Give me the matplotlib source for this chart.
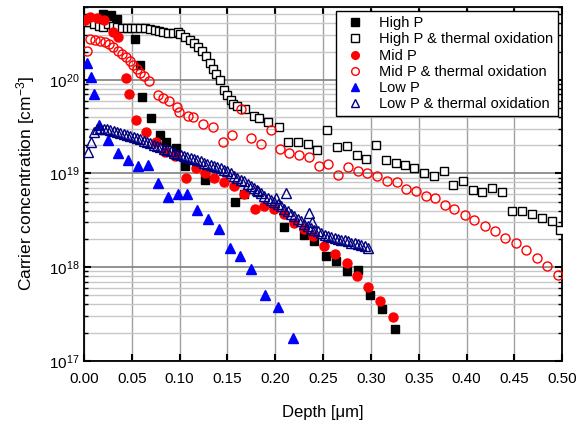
import matplotlib
matplotlib.use("Agg")
import matplotlib.pyplot as plt
from matplotlib.ticker import LogLocator, MultipleLocator, NullFormatter

plt.rcParams['font.family'] = ['Liberation Sans', 'DejaVu Sans']
plt.rcParams['mathtext.fontset'] = 'custom'
plt.rcParams['mathtext.rm'] = 'Liberation Sans'
plt.rcParams['mathtext.it'] = 'Liberation Sans:italic'

# ---- data (depth in um, concentration in cm^-3) ----
high_p_x = [0.020, 0.028, 0.035, 0.053, 0.059, 0.061, 0.070, 0.080, 0.086, 0.096,
            0.106, 0.127, 0.158, 0.167, 0.209, 0.230, 0.241, 0.253, 0.264, 0.275,
            0.287, 0.299, 0.312, 0.325]
high_p_y = [5.0e20, 4.9e20, 4.5e20, 2.7e20, 1.45e20, 6.5e19, 3.9e19, 2.55e19, 2.15e19, 1.85e19,
            1.2e19, 8.6e18, 4.9e18, 6.1e18, 2.7e18, 2.2e18, 1.9e18, 1.3e18, 1.17e18, 9.1e17,
            9.3e17, 5.0e17, 3.6e17, 2.2e17]

high_ox_x = [0.001, 0.0055, 0.0105, 0.0157, 0.0202, 0.0254, 0.030, 0.0348, 0.0394, 0.0447,
             0.0488, 0.0533, 0.0586, 0.0638, 0.069, 0.0743, 0.0788, 0.083, 0.0882, 0.0928,
             0.0986, 0.1004, 0.1056, 0.1109, 0.1154, 0.1196, 0.1234, 0.1276, 0.1318, 0.1353,
             0.1381, 0.1423, 0.1464, 0.1493, 0.1535, 0.1562, 0.1597, 0.1684, 0.1778, 0.1834,
             0.1928, 0.204, 0.2137, 0.2242, 0.2346, 0.244, 0.2539, 0.2643, 0.2748, 0.2853,
             0.295, 0.3054, 0.3159, 0.326, 0.3358, 0.3455, 0.3556, 0.3661, 0.3766, 0.3863,
             0.3961, 0.4066, 0.4163, 0.4268, 0.4369, 0.4477, 0.4578, 0.4683, 0.4788, 0.4892,
             0.4979]
high_ox_y = [4.17e20, 4.10e20, 3.90e20, 3.78e20, 3.62e20, 3.90e20, 3.78e20, 3.69e20, 3.60e20, 3.60e20,
             3.60e20, 3.53e20, 3.60e20, 3.53e20, 3.47e20, 3.39e20, 3.34e20, 3.26e20, 3.18e20, 3.18e20,
             3.26e20, 3.05e20, 2.83e20, 2.65e20, 2.44e20, 2.25e20, 2.05e20, 1.81e20, 1.52e20, 1.31e20,
             1.16e20, 1.00e20, 7.7e19, 6.8e19, 6.1e19, 5.5e19, 5.2e19, 4.9e19, 4.13e19, 3.87e19,
             3.51e19, 3.16e19, 2.19e19, 2.19e19, 2.08e19, 1.77e19, 2.90e19, 1.92e19, 1.94e19, 1.57e19,
             1.42e19, 2.01e19, 1.38e19, 1.28e19, 1.22e19, 1.13e19, 1.02e19, 9.5e18, 1.06e19, 7.5e18,
             8.4e18, 6.7e18, 6.3e18, 6.95e18, 6.3e18, 4.0e18, 3.94e18, 3.69e18, 3.34e18, 3.07e18,
             2.5e18]

mid_p_x = [0.001, 0.0063, 0.0136, 0.0209, 0.0306, 0.0353, 0.0439, 0.0474, 0.0544, 0.0652,
           0.0756, 0.0847, 0.0952, 0.1064, 0.1168, 0.1269, 0.1363, 0.1464, 0.1566, 0.1674,
           0.1785, 0.1886, 0.1987, 0.2092, 0.2197, 0.230, 0.2399, 0.2514, 0.2626, 0.2748,
           0.2859, 0.2974, 0.3096, 0.3235]
mid_p_y = [4.3e20, 4.7e20, 4.6e20, 4.3e20, 3.2e20, 2.85e20, 1.04e20, 7.1e19, 3.76e19, 2.78e19,
           2.17e19, 1.69e19, 1.53e19, 8.9e18, 1.14e19, 1.02e19, 9.0e18, 8.1e18, 7.3e18, 6.1e18,
           4.17e18, 4.53e18, 4.17e18, 3.65e18, 2.95e18, 2.56e18, 2.15e18, 1.69e18, 1.37e18, 1.10e18,
           8.1e17, 6.2e17, 4.38e17, 2.95e17]

mid_ox_x = [0.0035, 0.0063, 0.0115, 0.0167, 0.022, 0.0265, 0.0306, 0.0353, 0.0394, 0.0436,
            0.0481, 0.0516, 0.0551, 0.0586, 0.0631, 0.068, 0.0777, 0.0823, 0.0892, 0.097,
            0.0997, 0.1091, 0.1143, 0.1242, 0.1346, 0.1451, 0.1545, 0.1642, 0.1747, 0.1851,
            0.1956, 0.205, 0.2148, 0.2252, 0.2357, 0.2461, 0.2555, 0.266, 0.2758, 0.2863,
            0.2957, 0.3062, 0.3166, 0.3271, 0.3368, 0.347, 0.3572, 0.3672, 0.3776, 0.3873,
            0.3985, 0.4083, 0.4195, 0.4299, 0.4407, 0.4516, 0.4623, 0.4735, 0.484, 0.4951]
mid_ox_y = [2.01e20, 2.69e20, 2.65e20, 2.58e20, 2.52e20, 2.38e20, 2.22e20, 2.04e20, 1.86e20, 1.75e20,
            1.59e20, 1.45e20, 1.31e20, 1.19e20, 1.10e20, 9.8e19, 6.95e19, 6.4e19, 5.9e19, 5.1e19,
            4.56e19, 4.13e19, 3.97e19, 3.37e19, 3.10e19, 2.17e19, 2.56e19, 4.88e19, 2.36e19, 2.08e19,
            2.90e19, 1.81e19, 1.67e19, 1.56e19, 1.48e19, 1.19e19, 1.27e19, 9.6e18, 1.17e19, 1.05e19,
            1.01e19, 9.4e18, 8.4e18, 8.0e18, 6.9e18, 6.5e18, 5.7e18, 5.4e18, 4.6e18, 4.2e18,
            3.6e18, 3.2e18, 2.76e18, 2.44e18, 2.04e18, 1.80e18, 1.52e18, 1.24e18, 1.03e18, 8.2e17]

low_p_x = [0.0035, 0.007, 0.0105, 0.0157, 0.0251, 0.0359, 0.0463, 0.0568, 0.0673, 0.0771,
           0.0876, 0.0978, 0.1081, 0.1187, 0.1297, 0.1407, 0.1524, 0.1635, 0.175, 0.1893,
           0.2024, 0.2181]
low_p_y = [1.49e20, 1.07e20, 7.1e19, 3.28e19, 2.28e19, 1.66e19, 1.39e19, 1.20e19, 1.24e19, 7.9e18,
           5.6e18, 6.1e18, 6.0e18, 4.06e18, 3.24e18, 2.56e18, 1.59e18, 1.30e18, 9.5e17, 5.0e17,
           3.72e17, 1.75e17]

low_ox_x = [0.0045, 0.007, 0.010, 0.0135, 0.017, 0.0205, 0.024, 0.0275, 0.031, 0.0345,
            0.038, 0.0415, 0.045, 0.0485, 0.052, 0.0555, 0.059, 0.0625, 0.066, 0.0695,
            0.073, 0.0765, 0.080, 0.0835, 0.087, 0.0905, 0.094, 0.0975, 0.101, 0.1045,
            0.108, 0.1115, 0.115, 0.1185, 0.122, 0.1255, 0.129, 0.1325, 0.136, 0.1395,
            0.143, 0.1465, 0.150, 0.1535, 0.157, 0.1605, 0.164, 0.1675, 0.171, 0.1745,
            0.178, 0.181, 0.1815, 0.185, 0.1885, 0.192, 0.1955, 0.199, 0.201, 0.2025,
            0.206, 0.2095, 0.211, 0.213, 0.2165, 0.220, 0.2235, 0.227, 0.2305, 0.234,
            0.235, 0.2375, 0.238, 0.241, 0.2445, 0.248, 0.2515, 0.255, 0.2585, 0.262,
            0.2655, 0.269, 0.2725, 0.276, 0.2795, 0.283, 0.2865, 0.290, 0.2935, 0.297]
low_ox_y = [1.69e19, 2.14e19, 2.8e19, 3.0e19, 3.05e19, 3.0e19, 2.95e19, 2.9e19, 2.85e19, 2.75e19,
            2.7e19, 2.63e19, 2.56e19, 2.5e19, 2.44e19, 2.38e19, 2.32e19, 2.23e19, 2.15e19, 2.1e19,
            2.02e19, 1.95e19, 1.9e19, 1.84e19, 1.77e19, 1.73e19, 1.67e19, 1.61e19, 1.56e19, 1.53e19,
            1.49e19, 1.45e19, 1.42e19, 1.38e19, 1.35e19, 1.3e19, 1.25e19, 1.22e19, 1.19e19, 1.16e19,
            1.13e19, 1.09e19, 1.05e19, 1.0e19, 9.5e18, 9.0e18, 8.6e18, 8.2e18, 7.8e18, 7.3e18,
            6.95e18, 6.6e18, 6.55e18, 6.15e18, 5.8e18, 5.45e18, 5.2e18, 4.95e18, 5.5e18, 4.7e18,
            4.5e18, 4.2e18, 6.2e18, 3.95e18, 3.72e18, 3.5e18, 3.3e18, 3.1e18, 2.9e18, 2.75e18,
            3.8e18, 2.6e18, 3.0e18, 2.5e18, 2.4e18, 2.3e18, 2.2e18, 2.15e18, 2.1e18, 2.05e18,
            2.0e18, 1.95e18, 1.93e18, 1.88e18, 1.83e18, 1.8e18, 1.76e18, 1.71e18, 1.67e18, 1.6e18]

fig = plt.figure(figsize=(5.79, 4.25), dpi=100)
ax = fig.add_axes([0.145, 0.151, 0.826, 0.833])

ms = 6
ax.plot(high_p_x, high_p_y, 's', color='black', ms=ms, label='High P', zorder=3)
ax.plot(high_ox_x, high_ox_y, 's', mfc='white', mec='black', mew=1.0, ms=ms,
        label='High P & thermal oxidation', zorder=3)
ax.plot(mid_p_x, mid_p_y, 'o', color='red', ms=6.5, label='Mid P', zorder=3)
ax.plot(mid_ox_x, mid_ox_y, 'o', mfc='none', mec='red', mew=1.0, ms=6.5,
        label='Mid P & thermal oxidation', zorder=3)
ax.plot(low_p_x, low_p_y, '^', color='blue', ms=7, label='Low P', zorder=3)
ax.plot(low_ox_x, low_ox_y, '^', mfc='none', mec='#000080', mew=1.0, ms=7,
        label='Low P & thermal oxidation', zorder=4)

ax.set_yscale('log')
ax.set_xlim(0, 0.5)
ax.set_ylim(1e17, 6e20)
ax.xaxis.set_major_locator(MultipleLocator(0.05))
ax.xaxis.set_major_formatter(plt.FormatStrFormatter('%.2f'))
ax.yaxis.set_major_locator(LogLocator(base=10))
ax.yaxis.set_minor_locator(LogLocator(base=10, subs=range(2, 10)))
ax.yaxis.set_minor_formatter(NullFormatter())

ax.grid(True, which='major', axis='x', color='#a0a0a0', lw=1.0)
ax.grid(True, which='major', axis='y', color='#808080', lw=1.2)
ax.grid(True, which='minor', axis='y', color='#c8c8c8', lw=1.0)
ax.set_axisbelow(True)

ax.tick_params(which='both', direction='in', top=True, right=True, labelsize=11)
ax.tick_params(which='major', length=5, width=1.5)
ax.tick_params(which='minor', length=3, width=1)
ax.tick_params(axis='x', pad=8)
for sp in ax.spines.values():
    sp.set_linewidth(1.3)

ax.set_xlabel('Depth [μm]', fontsize=12, labelpad=14)
ax.set_ylabel('Carrier concentration [cm$^{-3}$]', fontsize=12.5, labelpad=8)

leg = ax.legend(loc='upper right', fontsize=10.5, frameon=True, fancybox=False,
                edgecolor='black', framealpha=1, borderpad=0.35, labelspacing=0.15,
                handletextpad=0.6, borderaxespad=0.3, markerscale=0.85)
leg.get_frame().set_linewidth(1.0)

fig.savefig('out.png', dpi=100)
